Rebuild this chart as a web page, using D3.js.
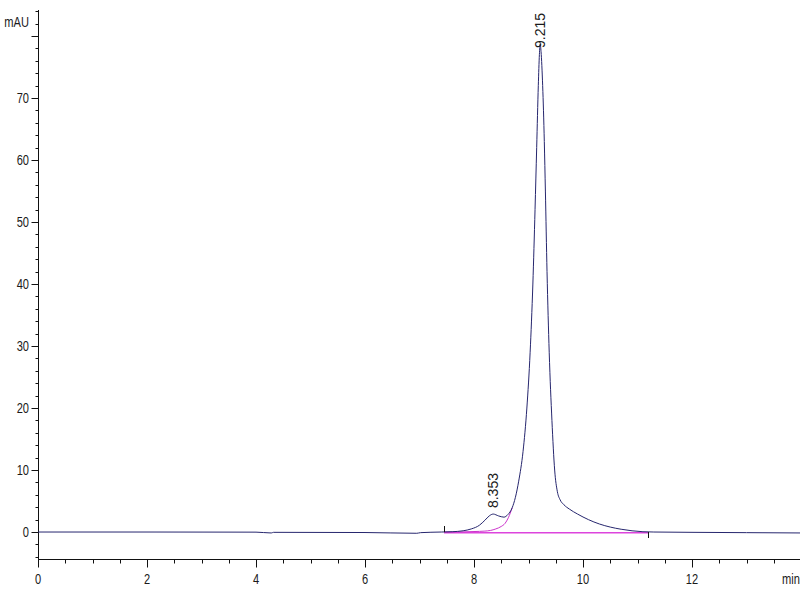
<!DOCTYPE html>
<html lang="en">
<head>
<meta charset="utf-8">
<title>Chromatogram</title>
<script src="https://d3js.org/d3.v7.min.js"></script>
<style type="text/css">
  body { margin: 0; background: #fff; }
  svg { display: block; }
  .axis-label { font-family: 'Liberation Sans', Arial, sans-serif; font-size: 15px; fill: #1a1a1a; }
  .peak-label { font-family: 'Liberation Sans', Arial, sans-serif; font-size: 14px; fill: #1a1a1a; }
</style>
</head>
<body>
<div id="chart"></div>
<script>

/* Data */
/* ========================== */

// Signal trace (time in min, absorbance in mAU)
var traceTime = [0, 2, 4, 4.28, 4.32, 6, 6.95, 7.02, 7.4, 7.6, 7.8, 7.95, 8.1, 8.2, 8.28, 8.353, 8.45, 8.55, 8.62, 8.7,
                 8.76, 8.82, 8.9, 8.97, 9.03, 9.08, 9.12, 9.15, 9.18, 9.2, 9.215, 9.23, 9.26, 9.29, 9.31, 9.34,
                 9.38, 9.43, 9.48, 9.53, 9.58, 9.65, 9.75, 9.9, 10.1, 10.3, 10.5, 10.7, 10.9, 11.1, 11.3, 12, 13, 14];
var traceMAU  = [0, 0, -0.02, -0.15, -0.05, -0.08, -0.2, -0.1, 0, 0.05, 0.2, 0.5, 1.1, 1.9, 2.6, 2.9, 2.6, 2.4, 2.8, 3.9,
                 5.6, 8.2, 13, 20, 29, 40, 52, 62, 72, 77, 78.7, 77.5, 72, 63, 55, 42,
                 29, 18, 10, 6.5, 5.2, 4.4, 3.7, 2.9, 2.0, 1.3, 0.8, 0.45, 0.2, 0.05, 0, -0.05, -0.1, -0.15];

// Integration baseline under the minor peak (skim curve) and the flat baseline
var skimTime = [7.45, 7.8, 8.0, 8.2, 8.3, 8.4, 8.5, 8.57, 8.63, 8.7];
var skimMAU  = [0, 0.03, 0.08, 0.15, 0.25, 0.5, 0.9, 1.4, 2.3, 3.9];
var baseTime = [7.45, 11.2];
var baseMAU  = [-0.1, -0.1];

// Peak annotations
var peakTimes = [8.353, 9.215];
var peakApex  = [2.9, 78.7];
var peakNames = ['8.353', '9.215'];

// Axis ticks
var xMajor = [0, 2, 4, 6, 8, 10, 12];
var xMinor = d3.range(0, 14, 0.5);
var yMajor = [0, 10, 20, 30, 40, 50, 60, 70, 80];
var yLabels = ['0', '10', '20', '30', '40', '50', '60', '70', ''];
var yMinor = d3.range(-4, 85, 2);


/* Set up svg and scales */
/* ===================== */

var width = 800,
    height = 600,
    narrow = 0.74; // axis text in the reference is horizontally condensed

var svg = d3.select('#chart').append('svg')
    .attr('width', width)
    .attr('height', height);

var x = d3.scaleLinear().domain([0, 14]).range([38, 801]);
var y = d3.scaleLinear().domain([-4.35, 84.2]).range([559, 10]);

var axisX = 38.5,
    axisY = 559.5;

function narrowAt(px, py) {
  return 'translate(' + px + ',' + py + ') scale(' + narrow + ',1)';
}


/* Axes */
/* ==== */

// y axis line and ticks
svg.append('line')
    .attr('x1', axisX).attr('x2', axisX)
    .attr('y1', y.range()[1]).attr('y2', axisY)
    .attr('stroke', '#111').attr('stroke-width', 1);

svg.selectAll('.y-minor').data(yMinor).enter().append('line')
    .attr('x1', axisX - 3).attr('x2', axisX)
    .attr('y1', function(d) { return Math.round(y(d)) + 0.5; })
    .attr('y2', function(d) { return Math.round(y(d)) + 0.5; })
    .attr('stroke', '#111');

svg.selectAll('.y-major').data(yMajor).enter().append('line')
    .attr('x1', axisX - 7).attr('x2', axisX)
    .attr('y1', function(d) { return Math.round(y(d)) + 0.5; })
    .attr('y2', function(d) { return Math.round(y(d)) + 0.5; })
    .attr('stroke', '#111');

svg.selectAll('.y-label').data(yMajor).enter().append('text')
    .attr('class', 'axis-label')
    .attr('transform', function(d) { return narrowAt(29, y(d)); })
    .attr('dy', '0.35em')
    .attr('text-anchor', 'end')
    .text(function(d, i) { return yLabels[i]; });

svg.append('text')
    .attr('class', 'axis-label')
    .attr('transform', narrowAt(29, 27))
    .attr('text-anchor', 'end')
    .text('mAU');

// x axis line and ticks
svg.append('line')
    .attr('x1', axisX).attr('x2', width)
    .attr('y1', axisY).attr('y2', axisY)
    .attr('stroke', '#111');

svg.selectAll('.x-minor').data(xMinor).enter().append('line')
    .attr('x1', function(d) { return Math.round(x(d)) + 0.5; })
    .attr('x2', function(d) { return Math.round(x(d)) + 0.5; })
    .attr('y1', axisY).attr('y2', axisY + 4)
    .attr('stroke', '#111');

svg.selectAll('.x-major').data(xMajor).enter().append('line')
    .attr('x1', function(d) { return Math.round(x(d)) + 0.5; })
    .attr('x2', function(d) { return Math.round(x(d)) + 0.5; })
    .attr('y1', axisY).attr('y2', axisY + 8)
    .attr('stroke', '#111');

svg.selectAll('.x-label').data(xMajor).enter().append('text')
    .attr('class', 'axis-label')
    .attr('transform', function(d) { return narrowAt(x(d), 584); })
    .attr('text-anchor', 'middle')
    .text(function(d) { return d; });

svg.append('text')
    .attr('class', 'axis-label')
    .attr('transform', narrowAt(782, 584))
    .text('min');


/* Traces */
/* ====== */

var line = d3.line()
    .x(function(d) { return x(d[0]); })
    .y(function(d) { return y(d[1]); })
    .curve(d3.curveMonotoneX);

// integration baseline (drawn first so the signal sits on top)
svg.append('path')
    .datum(d3.zip(baseTime, baseMAU))
    .attr('d', line)
    .attr('fill', 'none')
    .attr('stroke', '#dd44dd')
    .attr('stroke-width', 1.5);

svg.append('path')
    .datum(d3.zip(skimTime, skimMAU))
    .attr('d', line)
    .attr('fill', 'none')
    .attr('stroke', '#cc33cc')
    .attr('stroke-width', 1);

// signal
svg.append('path')
    .datum(d3.zip(traceTime, traceMAU))
    .attr('d', line)
    .attr('fill', 'none')
    .attr('stroke', '#26266e')
    .attr('stroke-width', 1);

// integration start / end markers
svg.append('line')
    .attr('x1', Math.round(x(baseTime[0])) + 0.5).attr('x2', Math.round(x(baseTime[0])) + 0.5)
    .attr('y1', y(0) - 6).attr('y2', y(0))
    .attr('stroke', '#111');

svg.append('line')
    .attr('x1', Math.round(x(baseTime[1])) + 0.5).attr('x2', Math.round(x(baseTime[1])) + 0.5)
    .attr('y1', y(0)).attr('y2', y(0) + 6)
    .attr('stroke', '#111');


/* Peak labels */
/* =========== */

svg.selectAll('.peak-label').data(peakTimes).enter().append('text')
    .attr('class', 'peak-label')
    .attr('transform', function(d, i) {
      var bottom = Math.max(y(peakApex[i]) - 6, 48);
      return 'translate(' + (x(d) + 5) + ',' + bottom + ') rotate(-90)';
    })
    .attr('text-anchor', 'start')
    .text(function(d, i) { return peakNames[i]; });

</script>
</body>
</html>
